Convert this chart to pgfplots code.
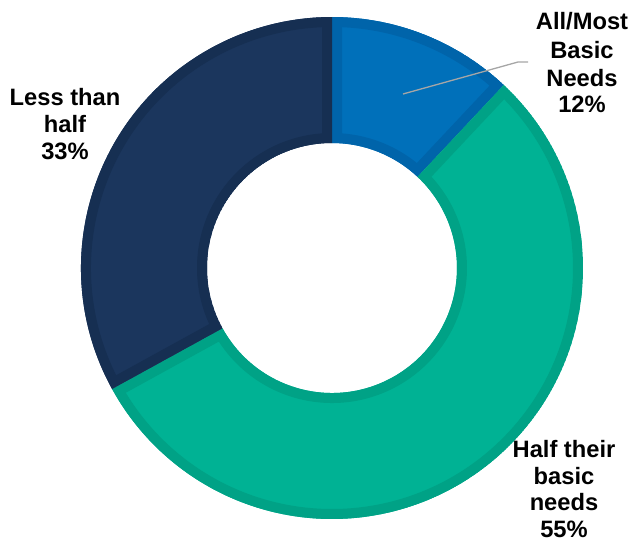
\documentclass[border=0pt]{standalone}
\usepackage{pgfplots}
\pgfplotsset{compat=1.18}
\usepackage{pgfplotstable}
\usepackage{fontspec}
\setmainfont{Liberation Sans}
\definecolor{bluefill}{RGB}{0,112,186}
\definecolor{blueedge}{RGB}{0,100,170}
\definecolor{tealfill}{RGB}{0,178,148}
\definecolor{tealedge}{RGB}{0,162,134}
\definecolor{navyfill}{RGB}{27,54,93}
\definecolor{navyedge}{RGB}{22,47,82}
\definecolor{leader}{RGB}{166,166,166}

\pgfplotstableread{
label value
allmost 12
half 55
less 33
}\donutdata

\pgfplotstablegetelem{0}{value}\of\donutdata \edef\va{\pgfplotsretval}
\pgfplotstablegetelem{1}{value}\of\donutdata \edef\vb{\pgfplotsretval}
\pgfplotstablegetelem{2}{value}\of\donutdata \edef\vc{\pgfplotsretval}
\pgfmathsetmacro\aO{90}
\pgfmathsetmacro\aA{\aO-3.6*\va}
\pgfmathsetmacro\aB{\aA-3.6*\vb}
\pgfmathsetmacro\aC{\aB-3.6*\vc}

\newcommand\wedgepath[2]{(#1:251pt) arc[start angle=#1,end angle=#2,radius=251pt] -- (#2:125pt) arc[start angle=#2,end angle=#1,radius=125pt] -- cycle}
\newcommand\donutwedge[4]{%
  \begin{scope}[shift={(axis cs:332,268)}]
    \clip \wedgepath{#1}{#2};
    \fill[#3] \wedgepath{#1}{#2};
    \draw[#4,line width=20pt] \wedgepath{#1}{#2};
  \end{scope}}

\begin{document}
\begin{tikzpicture}
\begin{axis}[
  x=1pt, y=1pt,
  xmin=0, xmax=632, ymin=0, ymax=543,
  y dir=reverse,
  hide axis, clip=false,
]
\addplot[draw=none] coordinates {(0,0) (632,543)};
\donutwedge{\aO}{\aA}{bluefill}{blueedge}
\donutwedge{\aA}{\aB}{tealfill}{tealedge}
\donutwedge{\aB}{\aC}{navyfill}{navyedge}
\draw[leader, line width=1.3pt] (axis cs:403,94) -- (axis cs:518,62) -- (axis cs:528,62);
\begin{scope}[every node/.style={anchor=base, font=\fontsize{23.7}{27}\selectfont\bfseries, inner sep=0pt}]
\node at (axis cs:582,30) {All/Most};
\node at (axis cs:582,59) {Basic};
\node at (axis cs:582,87) {Needs};
\node at (axis cs:582,113) {12\%};
\node at (axis cs:65,105) {Less than};
\node at (axis cs:65,132) {half};
\node at (axis cs:65,159) {33\%};
\node at (axis cs:564,457) {Half their};
\node at (axis cs:564,484) {basic};
\node at (axis cs:564,510) {needs};
\node at (axis cs:564,537) {55\%};
\end{scope}
\end{axis}
\end{tikzpicture}
\end{document}
